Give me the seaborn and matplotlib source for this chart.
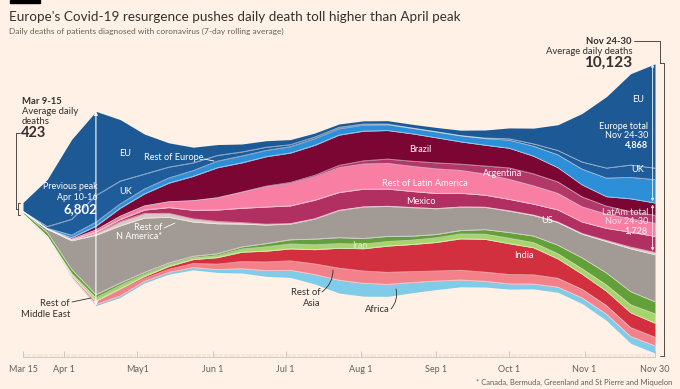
import numpy as np
import pandas as pd
import seaborn as sns
import matplotlib.pyplot as plt
import matplotlib.dates as mdates
from matplotlib.lines import Line2D
from matplotlib.patches import Rectangle

# 7-day rolling average of daily deaths, read every 10 days (Mar 15 -> Nov 30)
dates = pd.date_range("2020-03-15", "2020-11-30", freq="10D")

eu = [312, 1650, 2800, 2950, 2150, 1400, 850, 550, 380, 280, 230, 180, 140, 120, 110, 120, 130, 150, 190, 280, 380, 550, 900, 1700, 2500, 3200, 3650]
uk = [3, 60, 550, 930, 800, 520, 380, 270, 200, 140, 110, 70, 60, 50, 40, 25, 12, 10, 8, 20, 50, 80, 150, 250, 350, 430, 400]
rest_europe = [2, 25, 90, 140, 150, 170, 180, 200, 230, 240, 220, 220, 230, 220, 210, 200, 190, 200, 210, 230, 280, 350, 450, 550, 650, 750, 818]
brazil = [0, 5, 50, 130, 280, 420, 650, 850, 1050, 1020, 1030, 1030, 1050, 1060, 1040, 1000, 960, 880, 780, 730, 690, 620, 500, 420, 330, 450, 430]
argentina = [0, 1, 3, 6, 6, 6, 6, 7, 10, 20, 30, 40, 50, 80, 110, 150, 180, 210, 220, 280, 400, 420, 400, 350, 280, 250, 280]
rest_latam = [0, 4, 25, 70, 110, 140, 200, 330, 420, 550, 700, 780, 820, 870, 880, 900, 880, 860, 800, 740, 700, 640, 580, 530, 500, 470, 460]
mexico = [0, 1, 10, 30, 70, 120, 200, 300, 400, 500, 600, 620, 650, 620, 620, 600, 560, 530, 480, 420, 400, 380, 420, 400, 420, 520, 558]
rest_n_america = [0, 2, 20, 80, 150, 160, 140, 110, 80, 50, 30, 15, 10, 8, 5, 5, 5, 5, 5, 5, 10, 15, 22, 25, 40, 60, 80]
us = [8, 110, 1000, 2080, 2000, 1900, 1600, 1200, 1050, 800, 650, 550, 700, 950, 1100, 1050, 1000, 900, 820, 780, 750, 720, 790, 830, 1100, 1500, 1650]
iran = [70, 130, 140, 110, 85, 65, 50, 55, 65, 75, 115, 150, 200, 210, 200, 180, 140, 120, 120, 160, 200, 230, 300, 380, 420, 460, 420]
rest_middle_east = [2, 15, 60, 110, 120, 80, 70, 60, 70, 110, 150, 170, 170, 160, 160, 160, 150, 160, 170, 180, 190, 180, 180, 190, 220, 280, 330]
india = [0, 1, 10, 35, 50, 70, 100, 140, 230, 330, 380, 420, 500, 700, 780, 920, 950, 1000, 1100, 1150, 1080, 950, 680, 530, 500, 520, 490]
rest_asia = [25, 30, 60, 90, 200, 100, 110, 140, 190, 250, 300, 330, 370, 420, 430, 420, 380, 350, 340, 320, 330, 320, 310, 300, 300, 310, 300]
africa = [1, 5, 20, 40, 50, 55, 60, 80, 100, 150, 200, 250, 330, 450, 450, 420, 360, 300, 240, 200, 180, 170, 180, 200, 220, 240, 257]

# bottom -> top
layers = [africa, rest_asia, india, rest_middle_east, iran, us, rest_n_america,
          mexico, rest_latam, argentina, brazil, rest_europe, uk, eu]
colors = ["#80cbe8", "#f2818a", "#d3303f", "#a9d46c", "#64a03a", "#a29a94", "#d9c9c4",
          "#b12f61", "#f87ea3", "#b3386a", "#7b0634", "#2d8fd8", "#1f5c9b", "#1d5995"]

tick_dates = pd.to_datetime(["2020-03-15", "2020-04-01", "2020-05-01", "2020-06-01", "2020-07-01",
                             "2020-08-01", "2020-09-01", "2020-10-01", "2020-11-01", "2020-11-30"])
tick_labels = ["Mar 15", "Apr 1", "May1", "Jun 1", "Jul 1", "Aug 1", "Sep 1", "Oct 1", "Nov 1", "Nov 30"]

BG = "#fff1e5"
DARK = "#33302e"
GREY = "#66605c"
W, H = 680, 389


def fx(x):
    return x / W


def fy(y):
    return 1 - y / H


sns.set_theme(style="white", rc={"figure.facecolor": BG, "axes.facecolor": BG})
plt.rcParams["font.family"] = ["Lato", "DejaVu Sans"]

fig = plt.figure(figsize=(6.8, 3.89), dpi=100)
ax = fig.add_axes([fx(23), fy(357), fx(655) - fx(23), fy(40) - fy(357)])

ax.stackplot(dates, *layers, colors=colors, baseline="sym", linewidth=0)

# thin light lines between layers
data = np.array(layers, dtype=float)
total = data.sum(axis=0)
edges = -total / 2 + np.cumsum(data, axis=0)
for k in range(len(layers) - 1):
    sns.lineplot(x=dates, y=edges[k], ax=ax, color="white", alpha=0.55, lw=0.6)

ax.set_xlim(dates[0], dates[-1])
ax.set_ylim((208.5 - 357) * 35, (208.5 - 40) * 35)
ax.set_yticks([])
sns.despine(ax=ax, left=True)
ax.spines["bottom"].set_color("#cfc3b8")
ax.spines["bottom"].set_linewidth(0.6)
ax.set_xticks(tick_dates)
ax.set_xticklabels(tick_labels)
ax.xaxis.set_minor_locator(mdates.DayLocator())
ax.tick_params(axis="x", which="major", direction="in", length=4, width=0.5, color="#bfb3a8",
               labelsize=6.5, labelcolor=GREY, pad=6, bottom=True)
ax.tick_params(axis="x", which="minor", direction="in", length=2, width=0.3, color="#cfc3b8", bottom=True)
ax.set_xlabel("")
ax.set_ylabel("")

# arrows across the stream
i_peak = 3
ax.annotate("", xy=(dates[i_peak], total[i_peak] / 2), xytext=(dates[i_peak], -total[i_peak] / 2),
            arrowprops=dict(arrowstyle="<|-|>", color="white", lw=0.8, mutation_scale=5, shrinkA=0, shrinkB=0))
x_end = dates[-1] - pd.Timedelta(days=1)
top_end = total[-1] / 2
europe_total = eu[-1] + uk[-1] + rest_europe[-1]
latam_total = brazil[-1] + argentina[-1] + rest_latam[-1] + mexico[-1]
ax.annotate("", xy=(x_end, top_end), xytext=(x_end, top_end - europe_total),
            arrowprops=dict(arrowstyle="<|-|>", color="#d6e8f7", lw=0.7, mutation_scale=4, shrinkA=1, shrinkB=0))
ax.annotate("", xy=(x_end, top_end - europe_total), xytext=(x_end, top_end - europe_total - latam_total),
            arrowprops=dict(arrowstyle="<|-|>", color="#fbd3e0", lw=0.7, mutation_scale=4, shrinkA=1, shrinkB=1))

# header
fig.patches.append(Rectangle((fx(10), fy(3)), fx(30), 3 / H, transform=fig.transFigure, color="black"))
fig.text(fx(9), fy(17), "Europe's Covid-19 resurgence pushes daily death toll higher than April peak",
         fontsize=9.7, color=DARK, va="center")
fig.text(fx(9), fy(31), "Daily deaths of patients diagnosed with coronavirus (7-day rolling average)",
         fontsize=6, color=GREY, va="center")
fig.text(fx(672), fy(382), "* Canada, Bermuda, Greenland and St Pierre and Miquelon",
         fontsize=5.5, color=GREY, ha="right", va="center")

# left annotation
fig.text(fx(22), fy(102), "Mar 9-15", fontsize=6.8, weight="bold", color=DARK, va="center")
fig.text(fx(22), fy(112), "Average daily", fontsize=6.8, color=DARK, va="center")
fig.text(fx(22), fy(122), "deaths", fontsize=6.8, color=DARK, va="center")
fig.text(fx(21), fy(133), "423", fontsize=10.5, weight="bold", color=DARK, va="center")
for xs, ys in [([20, 16, 16], [133, 133, 209]), ([20, 18, 18, 20], [203, 203, 215, 215]), ([16, 18], [209, 209])]:
    fig.lines.append(Line2D([fx(v) for v in xs], [fy(v) for v in ys], transform=fig.transFigure,
                            color=DARK, lw=0.6))

# right annotation
fig.text(fx(632), fy(41), "Nov 24-30", fontsize=6.8, weight="bold", color=DARK, ha="right", va="center")
fig.text(fx(632), fy(51), "Average daily deaths", fontsize=6.8, color=DARK, ha="right", va="center")
fig.text(fx(632), fy(63), "10,123", fontsize=11, weight="bold", color=DARK, ha="right", va="center")
for xs, ys in [([634, 660, 660], [41, 41, 63]), ([660, 664, 664, 660], [63, 63, 356, 356])]:
    fig.lines.append(Line2D([fx(v) for v in xs], [fy(v) for v in ys], transform=fig.transFigure,
                            color=DARK, lw=0.6))

# labels inside the stream
inner = [
    (125, 153, "EU", "center"), (126, 192, "UK", "center"),
    (203, 158, "Rest of Europe", "right"),
    (420, 149, "Brazil", "center"), (503, 174, "Argentina", "center"),
    (425, 183, "Rest of Latin America", "center"), (421, 202, "Mexico", "center"),
    (547, 221, "US", "center"), (524, 256, "India", "center"),
    (638, 100, "EU", "center"), (638, 170, "UK", "center"),
]
for x, y, s, ha in inner:
    fig.text(fx(x), fy(y), s, fontsize=6.6, color="white", ha=ha, va="center")
fig.text(fx(360), fy(245), "Iran", fontsize=6.6, color="#d9efb5", ha="center", va="center")
fig.text(fx(162), fy(232), "Rest of\nN America*", fontsize=6.6, color="white", ha="right", va="center",
         multialignment="right", linespacing=1.1)
fig.text(fx(98), fy(192), "Previous peak\nApr 10-16", fontsize=6.4, color="white", ha="right", va="center",
         multialignment="right", linespacing=1.15)
fig.text(fx(97), fy(209), "6,802", fontsize=9.5, weight="bold", color="white", ha="right", va="center")
fig.text(fx(648), fy(131), "Europe total\nNov 24-30", fontsize=6.5, color="white", ha="right", va="center",
         multialignment="right", linespacing=1.1)
fig.text(fx(648), fy(145), "4,868", fontsize=6.5, weight="bold", color="white", ha="right", va="center")
fig.text(fx(648), fy(217), "LatAm total\nNov 24-30", fontsize=6.5, color="#fde3ec", ha="right", va="center",
         multialignment="right", linespacing=1.1)
fig.text(fx(648), fy(231), "1,728", fontsize=6.5, weight="bold", color="#fde3ec", ha="right", va="center")

# leader lines
for (x0, y0), (x1, y1), c in [((204, 159), (214, 161), "white"), ((164, 228), (175, 223), "white"),
                              ((72, 302), (91, 298), DARK)]:
    fig.lines.append(Line2D([fx(x0), fx(x1)], [fy(y0), fy(y1)], transform=fig.transFigure, color=c, lw=0.6))

fig.text(fx(70), fy(309), "Rest of\nMiddle East", fontsize=6.8, color=DARK, ha="right", va="center",
         multialignment="right", linespacing=1.35)
fig.text(fx(321), fy(298), "Rest of\nAsia", fontsize=6.8, color=DARK, ha="right", va="center",
         multialignment="right", linespacing=1.2)
fig.text(fx(390), fy(309), "Africa", fontsize=6.8, color=DARK, ha="right", va="center")
ax.annotate("", xy=(fx(333), fy(270)), xytext=(fx(322), fy(292)), xycoords="figure fraction",
            arrowprops=dict(arrowstyle="-", color=DARK, lw=0.6, connectionstyle="arc3,rad=0.25",
                            shrinkA=0, shrinkB=0))
ax.annotate("", xy=(fx(396), fy(289)), xytext=(fx(391), fy(309)), xycoords="figure fraction",
            arrowprops=dict(arrowstyle="-", color=DARK, lw=0.6, connectionstyle="arc3,rad=0.25",
                            shrinkA=0, shrinkB=0))

fig.savefig("out.png", dpi=100, facecolor=BG)
